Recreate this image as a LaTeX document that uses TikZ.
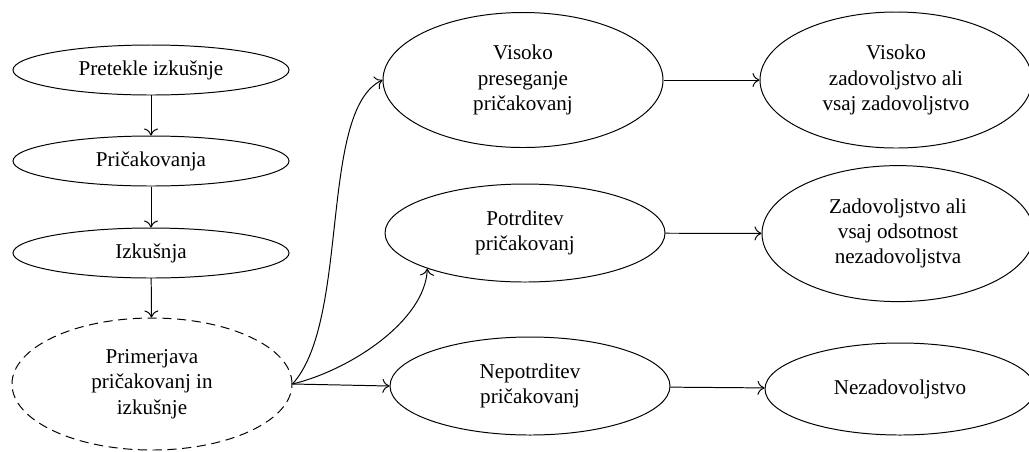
\documentclass[tikz,border=0pt]{standalone}
\usepackage{fontspec}
\setmainfont{Liberation Serif}
\usetikzlibrary{shapes,arrows.meta,positioning}

\begin{document}
\begin{tikzpicture}[
    stagebox/.style={ellipse, inner sep=0pt, minimum width=6.9cm, minimum height=1.25cm, draw=black, line width=0.7pt, align=center, font=\fontsize{15}{18}\selectfont},
    comparebox/.style={stagebox, dash pattern=on 6.5pt off 4pt, minimum width=7cm, minimum height=3.3cm},
    outcomebox/.style={stagebox, minimum width=7cm, minimum height=2.45cm},
    resultbox/.style={stagebox, minimum width=6.8cm, minimum height=3.4cm},
    arrow/.style={line width=0.7pt, -{To[length=5pt,width=10pt]}}
]
\useasboundingbox (0,0) rectangle (25.725,-11.275);

% Left column
\node[stagebox] (past) at (3.775,-1.75) {Pretekle izkušnje};
\node[stagebox] (expect) at (3.775,-4.025) {Pričakovanja};
\node[stagebox] (exper) at (3.775,-6.325) {Izkušnja};
\node[comparebox] (compare) at (3.8,-9.6) {Primerjava\\pričakovanj in\\izkušnje};

% Middle column
\node[outcomebox, minimum height=3.375cm] (exceed) at (13.075,-2.0) {Visoko\\preseganje\\pričakovanj};
\node[outcomebox] (confirm) at (13.125,-5.825) {Potrditev\\pričakovanj};
\node[outcomebox] (disconfirm) at (13.25,-9.65) {Nepotrditev\\pričakovanj};

% Right column
\node[resultbox] (highsat) at (22.4,-2.0) {Visoko\\zadovoljstvo ali\\vsaj zadovoljstvo};
\node[resultbox] (sat) at (22.45,-5.84) {Zadovoljstvo ali\\vsaj odsotnost\\nezadovoljstva};
\node[resultbox, minimum width=6.75cm, minimum height=2.3cm] (dissat) at (22.5,-9.725) {Nezadovoljstvo};

% Arrows
\draw[arrow] (past) -- (expect);
\draw[arrow] (expect) -- (exper);
\draw[arrow] (exper) -- (compare);

\draw[arrow] (compare.east) .. controls +(1.45,1.6) and +(-1.6,-0.75) .. (exceed.west);
\draw[arrow] (compare.east) .. controls +(1.45,0.35) and +(-0.05,-1.3) .. (confirm.200);
\draw[arrow] (compare.east) -- (disconfirm.west);

\draw[arrow] (exceed) -- (highsat);
\draw[arrow] (confirm) -- (sat);
\draw[arrow] (disconfirm) -- (dissat);

\end{tikzpicture}
\end{document}
